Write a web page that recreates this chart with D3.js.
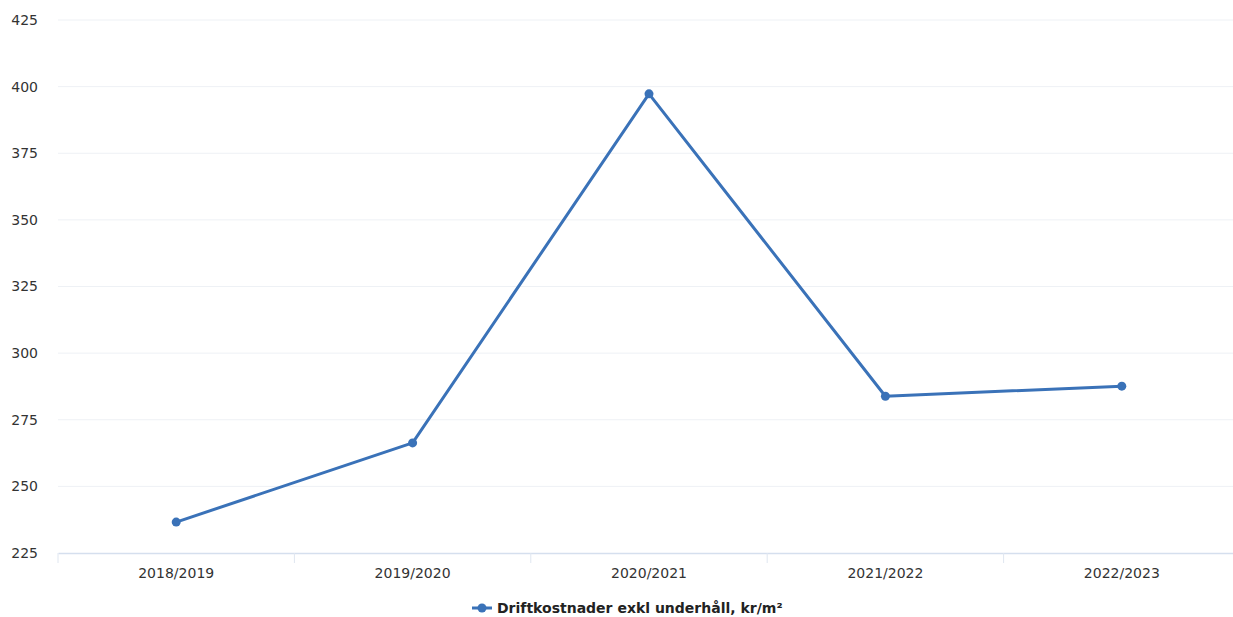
<!DOCTYPE html>
<html><head><meta charset="utf-8">
<script src="https://cdn.jsdelivr.net/npm/d3@7"></script>
<style>body{margin:0;background:#fff}svg{display:block}</style>
</head><body>
<svg id="c" width="1233" height="617"></svg>
<script>
const categories = ["2018/2019","2019/2020","2020/2021","2021/2022","2022/2023"];
const values = [236.6, 266.3, 397.3, 283.8, 287.6];
const yTicks = [225,250,275,300,325,350,375,400,425];
const seriesName = "Driftkostnader exkl underhåll, kr/m²";

const svg = d3.select("#c");
const W = 1233, H = 617;
const m = {left:58, right:-7, top:20, bottom:64};
const x = d3.scaleBand().domain(categories).range([m.left, W - m.right]);
const y = d3.scaleLinear().domain([225,425]).range([H - m.bottom, m.top]);
const color = "#3a72b8";
const font = "DejaVu Sans, Verdana, sans-serif";

// gridlines
svg.append("g").selectAll("line").data(yTicks.slice(1)).join("line")
  .attr("x1", m.left).attr("x2", W).attr("y1", d=>y(d)).attr("y2", d=>y(d))
  .attr("stroke", "#eef1f5").attr("stroke-width", 1);

// y axis labels
const ya = svg.append("g").attr("transform", `translate(38,0)`)
  .call(d3.axisLeft(y).tickValues(yTicks).tickSize(0).tickPadding(0));
ya.select(".domain").remove();
ya.selectAll("text").attr("font-family", font).attr("font-size", 14).attr("fill", "#333");

// x axis
const xa = svg.append("g").attr("transform", `translate(0,${y(225)})`)
  .call(d3.axisBottom(x).tickSize(0).tickPadding(15));
xa.select(".domain").attr("stroke", "#d5dfee").attr("stroke-width", 1.5);
xa.selectAll("text").attr("font-family", font).attr("font-size", 14).attr("fill", "#333");
// band boundary ticks
svg.append("g").selectAll("line").data(categories).join("line")
  .attr("x1", d=>x(d)).attr("x2", d=>x(d))
  .attr("y1", y(225)).attr("y2", y(225)+10)
  .attr("stroke", "#dfe6f0").attr("stroke-width", 1);

// line
const line = d3.line().x((d,i)=>x(categories[i]) + x.bandwidth()/2).y(d=>y(d));
svg.append("path").datum(values).attr("d", line)
  .attr("fill","none").attr("stroke", color).attr("stroke-width", 3).attr("stroke-linejoin","round");
svg.append("g").selectAll("circle").data(values).join("circle")
  .attr("cx", (d,i)=>x(categories[i]) + x.bandwidth()/2).attr("cy", d=>y(d)).attr("r", 4.5)
  .attr("fill", color);

// legend
const lg = svg.append("g").attr("transform", "translate(472,608)");
lg.append("line").attr("x1",0).attr("x2",20).attr("y1",0).attr("y2",0).attr("stroke",color).attr("stroke-width",3);
lg.append("circle").attr("cx",10).attr("cy",0).attr("r",4.5).attr("fill",color);
lg.append("text").attr("x",25).attr("y",0).attr("dy","0.35em")
  .attr("font-family", font).attr("font-size", 14).attr("font-weight","bold").attr("fill","#222")
  .text(seriesName);
</script>
</body></html>
